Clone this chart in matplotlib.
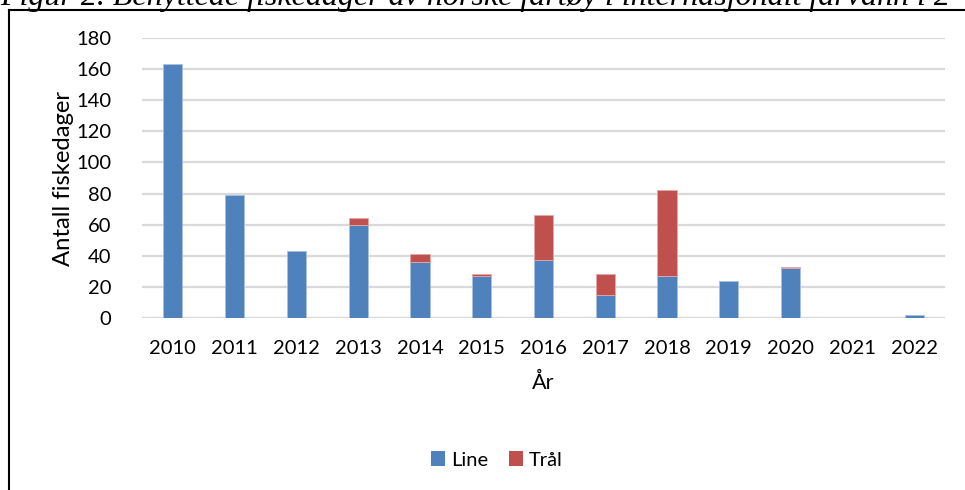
import matplotlib
matplotlib.use("Agg")
import matplotlib.pyplot as plt
from matplotlib.lines import Line2D
from matplotlib.patches import Patch

years = ["2010", "2011", "2012", "2013", "2014", "2015", "2016",
         "2017", "2018", "2019", "2020", "2021", "2022"]
line_days = [163, 79, 43, 60, 36, 27, 37, 15, 27, 24, 32, 0, 2]
tral_days = [0, 0, 0, 4, 5, 1, 29, 13, 55, 0, 1, 0, 0]
yticks = [0, 20, 40, 60, 80, 100, 120, 140, 160, 180]

blue = "#4F81BD"
red = "#C0504D"
W, H = 965, 490
FS = 14.5

plt.rcParams['font.family'] = ['Lato', 'DejaVu Sans']
fig = plt.figure(figsize=(W / 100, H / 100), dpi=100)
ax = fig.add_axes([142 / W, 1 - 318 / H, (945 - 142) / W, (318 - 38) / H])

x = list(range(len(years)))
ax.bar(x, line_days, width=0.31, color=blue, edgecolor="#A9C1E0",
       linewidth=[0.6 if v > 0 else 0 for v in line_days], zorder=3, label="Line")
ax.bar(x, tral_days, width=0.31, bottom=line_days, color=red, edgecolor="#E4A9A8",
       linewidth=[0.6 if v > 0 else 0 for v in tral_days], zorder=3, label="Trål")

ax.set_xlim(-0.5, len(years) - 0.5)
ax.set_ylim(0, 180)
ax.set_yticks(yticks)
ax.set_xticks(x)
ax.set_xticklabels(years)
ax.tick_params(axis="both", length=0, labelsize=FS, colors="black")
ax.tick_params(axis="y", pad=22)
ax.tick_params(axis="x", pad=16)
ax.grid(axis="y", color="#D9D9D9", linewidth=1.6, zorder=0)
for s in ax.spines.values():
    s.set_visible(False)
ax.axhline(0, color="#D9D9D9", linewidth=1.6, zorder=1)

ax.set_ylabel("Antall fiskedager", fontsize=17.2, labelpad=2)
ax.set_xlabel("År", fontsize=15.5, labelpad=11)

handles = [Patch(facecolor=blue, label="Line"), Patch(facecolor=red, label="Trål")]
fig.legend(handles=handles, loc="center", bbox_to_anchor=(497 / W, 1 - 460 / H),
           ncol=2, frameon=False, fontsize=FS, handlelength=0.7, handleheight=0.7,
           handletextpad=0.3, columnspacing=1.0)

# outer frame (partially outside the image)
fig.add_artist(Line2D([9 / W, 9 / W], [0, 1 - 10 / H], color="black", linewidth=1.5, transform=fig.transFigure))
fig.add_artist(Line2D([9 / W, 1.0], [1 - 10 / H, 1 - 10 / H], color="black", linewidth=1.5, transform=fig.transFigure))

# cut-off caption at top
fig.text(0.0, 1 - 5 / H, "Figur 2. Benyttede fiskedager av norske fartøy i internasjonalt farvann i 2",
         fontsize=23, fontstyle="italic", family=["Liberation Serif", "DejaVu Serif"],
         ha="left", va="baseline")

fig.savefig("out.png", dpi=100)
